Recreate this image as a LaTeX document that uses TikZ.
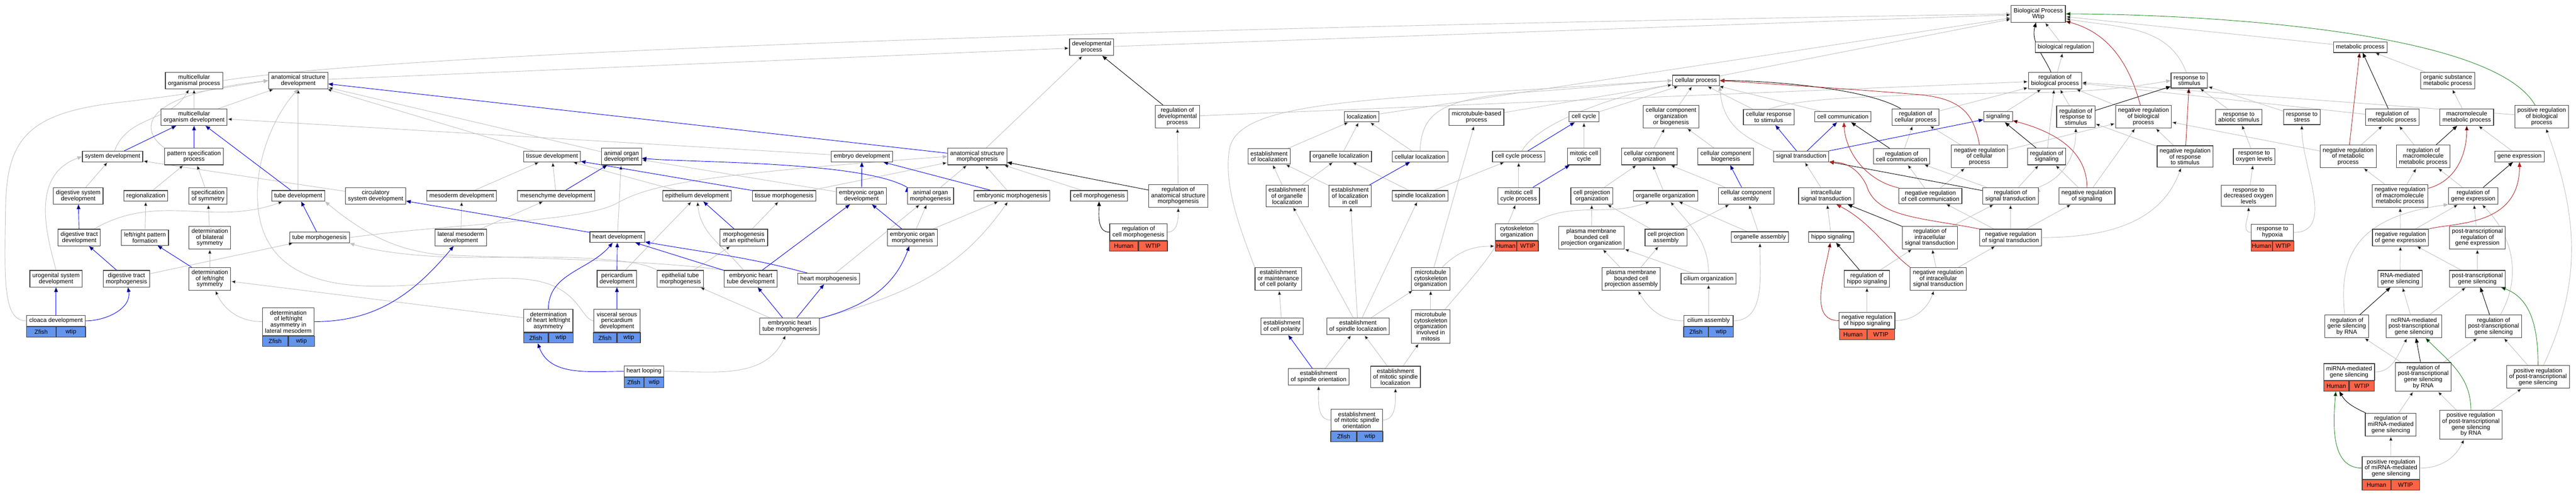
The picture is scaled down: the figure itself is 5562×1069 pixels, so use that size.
\documentclass[tikz,border=0pt]{standalone}
\usepackage{fontspec}
\setmainfont{Liberation Sans}
\usetikzlibrary{arrows.meta}
\pgfdeclarelayer{bg}
\pgfsetlayers{bg,main}
\definecolor{isagray}{RGB}{192,192,192}
\definecolor{negred}{RGB}{178,34,34}
\definecolor{posgreen}{RGB}{34,139,34}
\definecolor{zfish}{RGB}{100,149,237}
\definecolor{human}{RGB}{255,99,71}
\begin{document}
\begin{tikzpicture}[x=0.5pt, y=-0.5pt,
	term/.style={draw=black!75, line width=0.65pt, fill=white, align=center, inner xsep=2.75pt, inner ysep=2.7pt, minimum height=11.5pt, font=\fontsize{6.5}{6.5}\selectfont},
	zfcell/.style={term, fill=zfish, minimum height=11pt, inner sep=0pt},
	hscell/.style={term, fill=human, minimum height=11pt, inner sep=0pt},
	isa/.style={draw=isagray, line width=0.5pt, -{Triangle[length=5pt,width=4pt]}},
	partof/.style={isa, draw=blue},
	regl/.style={isa, draw=black},
	negreg/.style={isa, draw=negred},
	posreg/.style={isa, draw=posgreen}]
		\node[term] at (4401,30) (bp) {Biological Process\\Wtip};
		\node[term] at (2357,102) (dp) {developmental\\process};
		\node[term] at (4457,102) (bioreg) {biological regulation};
		\node[term] at (5096,102) (metab) {metabolic process};
		\node[term] at (419,174) (mop) {multicellular\\organismal process};
		\node[term] at (644,174) (asd) {anatomical structure\\development};
		\node[term] at (3662,174) (cp) {cellular process};
		\node[term] at (4437,174) (rbp) {regulation of\\biological process};
		\node[term] at (4727,174) (rts) {response to\\stimulus};
		\node[term] at (5285,174) (osmp) {organic substance\\metabolic process};
		\node[term] at (419,253) (mod) {multicellular\\organism development};
		\node[term] at (2542,252) (rdp) {regulation of\\developmental\\process};
		\node[term] at (2940,252) (loc) {localization};
		\node[term] at (3188,253) (mtbp) {microtubule-based\\process};
		\node[term] at (3420,252) (ccyc) {cell cycle};
		\node[term] at (3608,252) (ccob) {cellular component\\organization\\or biogenesis};
		\node[term] at (3819,253) (crs) {cellular response\\to stimulus};
		\node[term] at (3979,252) (ccom) {cell communication};
		\node[term] at (4136,253) (rcp) {regulation of\\cellular process};
		\node[term] at (4314,252) (sig) {signaling};
		\node[term] at (4482,252) (rrs) {regulation of\\response to\\stimulus};
		\node[term] at (4628,252) (nrbp) {negative regulation\\of biological\\process};
		\node[term] at (4834,253) (ras) {response to\\abiotic stimulus};
		\node[term] at (4970,253) (rstr) {response to\\stress};
		\node[term] at (5165,253) (rmp) {regulation of\\metabolic process};
		\node[term] at (5326,253) (mmp) {macromolecule\\metabolic process};
		\node[term] at (5488,252) (prbp) {positive regulation\\of biological\\process};
		\node[term] at (243,338) (sd) {system development};
		\node[term] at (419,338) (psp) {pattern specification\\process};
		\node[term] at (1192,338) (tisd) {tissue development};
		\node[term] at (1342,338) (aod) {animal organ\\development};
		\node[term] at (1861,338) (embd) {embryo development};
		\node[term] at (2110,338) (asm) {anatomical structure\\morphogenesis};
		\node[term] at (2740,338) (eol) {establishment\\of localization};
		\node[term] at (2895,338) (orgl) {organelle localization};
		\node[term] at (3066,338) (cloc) {cellular localization};
		\node[term] at (3279,338) (ccp) {cell cycle process};
		\node[term] at (3420,338) (mcc) {mitotic cell\\cycle};
		\node[term] at (3561,338) (cco) {cellular component\\organization};
		\node[term] at (3726,338) (ccb) {cellular component\\biogenesis};
		\node[term] at (3889,338) (st) {signal transduction};
		\node[term] at (4106,338) (rcc) {regulation of\\cell communication};
		\node[term] at (4274,338) (nrcp) {negative regulation\\of cellular\\process};
		\node[term] at (4419,338) (ros) {regulation of\\signaling};
		\node[term] at (4718,338) (nrrs) {negative regulation\\of response\\to stimulus};
		\node[term] at (4867,338) (rol) {response to\\oxygen levels};
		\node[term] at (5070,338) (nrmp) {negative regulation\\of metabolic\\process};
		\node[term] at (5232,338) (rmmp) {regulation of\\macromolecule\\metabolic process};
		\node[term] at (5440,338) (ge) {gene expression};
		\node[term] at (169,423) (dsd) {digestive system\\development};
		\node[term] at (315,423) (regio) {regionalization};
		\node[term] at (449,423) (sos) {specification\\of symmetry};
		\node[term] at (644,423) (td) {tube development};
		\node[term] at (811,423) (csd) {circulatory\\system development};
		\node[term] at (997,423) (mesd) {mesoderm development};
		\node[term] at (1201,423) (mchd) {mesenchyme development};
		\node[term] at (1505,423) (epd) {epithelium development};
		\node[term] at (1693,423) (tism) {tissue morphogenesis};
		\node[term] at (1860,423) (eod) {embryonic organ\\development};
		\node[term] at (2009,423) (aom) {animal organ\\morphogenesis};
		\node[term] at (2185,423) (emm) {embryonic morphogenesis};
		\node[term] at (2373,423) (cm) {cell morphogenesis};
		\node[term] at (2544,423) (rasm) {regulation of\\anatomical structure\\morphogenesis};
		\node[term] at (2779,423) (eool) {establishment\\of organelle\\localization};
		\node[term] at (2915,423) (eolc) {establishment\\of localization\\in cell};
		\node[term] at (3066,423) (spl) {spindle localization};
		\node[term] at (3279,423) (mccp) {mitotic cell\\cycle process};
		\node[term] at (3437,423) (cpo) {cell projection\\organization};
		\node[term] at (3596,423) (oo) {organelle organization};
		\node[term] at (3770,423) (cca) {cellular component\\assembly};
		\node[term] at (3943,423) (ist) {intracellular\\signal transduction};
		\node[term] at (4168,423) (nrcc) {negative regulation\\of cell communication};
		\node[term] at (4341,423) (rst) {regulation of\\signal transduction};
		\node[term] at (4506,423) (nrs) {negative regulation\\of signaling};
		\node[term] at (4855,423) (rdol) {response to\\decreased oxygen\\levels};
		\node[term] at (5182,423) (nrmmp) {negative regulation\\of macromolecule\\metabolic process};
		\node[term] at (5340,423) (rge) {regulation of\\gene expression};
		\node[term] at (171,513) (dtd) {digestive tract\\development};
		\node[term] at (313,513) (lrpf) {left/right pattern\\formation};
		\node[term] at (453,513) (dbs) {determination\\of bilateral\\symmetry};
		\node[term] at (690,513) (tm) {tube morphogenesis};
		\node[term] at (995,513) (lmd) {lateral mesoderm\\development};
		\node[term] at (1333,512) (hd) {heart development};
		\node[term] at (1606,513) (moe) {morphogenesis\\of an epithelium};
		\node[term] at (1970,513) (eom) {embryonic organ\\morphogenesis};
		\node[term] at (3436,513) (pmbcpo) {plasma membrane\\bounded cell\\projection organization};
		\node[term] at (3597,513) (cpa) {cell projection\\assembly};
		\node[term] at (3800,512) (oa) {organelle assembly};
		\node[term] at (3954,512) (hs) {hippo signaling};
		\node[term] at (4167,513) (rist) {regulation of\\intracellular\\signal transduction};
		\node[term] at (4341,513) (nrst) {negative regulation\\of signal transduction};
		\node[term] at (5183,513) (nrge) {negative regulation\\of gene expression};
		\node[term] at (5349,513) (ptrge) {post-transcriptional\\regulation of\\gene expression};
		\node[term] at (121,602) (usd) {urogenital system\\development};
		\node[term] at (273,602) (dtm) {digestive tract\\morphogenesis};
		\node[term] at (453,602) (dlrs) {determination\\of left/right\\symmetry};
		\node[term] at (1332,602) (pcd) {pericardium\\development};
		\node[term] at (1469,602) (etm) {epithelial tube\\morphogenesis};
		\node[term] at (1621,602) (ehtd) {embryonic heart\\tube development};
		\node[term] at (1789,602) (hm) {heart morphogenesis};
		\node[term] at (2760,602) (eomcp) {establishment\\or maintenance\\of cell polarity};
		\node[term] at (3089,602) (mtco) {microtubule\\cytoskeleton\\organization};
		\node[term] at (3522,602) (pmbcpa) {plasma membrane\\bounded cell\\projection assembly};
		\node[term] at (3689,602) (cio) {cilium organization};
		\node[term] at (4031,602) (rhs) {regulation of\\hippo signaling};
		\node[term] at (4185,602) (nrist) {negative regulation\\of intracellular\\signal transduction};
		\node[term] at (5182,602) (rgsm) {RNA-mediated\\gene silencing};
		\node[term] at (5349,602) (ptgs) {post-transcriptional\\gene silencing};
		\node[term] at (1705,705) (ehtm) {embryonic heart\\tube morphogenesis};
		\node[term] at (2768,705) (ecp) {establishment\\of cell polarity};
		\node[term] at (2932,705) (esl) {establishment\\of spindle localization};
		\node[term] at (3089,705) (mtcom) {microtubule\\cytoskeleton\\organization\\involved in\\mitosis};
		\node[term] at (5067,705) (rgsrna) {regulation of\\gene silencing\\by RNA};
		\node[term] at (5212,705) (ncptgs) {ncRNA-mediated\\post-transcriptional\\gene silencing};
		\node[term] at (5384,705) (rptgs) {regulation of\\post-transcriptional\\gene silencing};
		\node[term] at (2847,814) (eso) {establishment\\of spindle orientation};
		\node[term] at (3013,814) (emsl) {establishment\\of mitotic spindle\\localization};
		\node[term] at (5232,814) (rptgsr) {regulation of\\post-transcriptional\\gene silencing\\by RNA};
		\node[term] at (5480,814) (prptgs) {positive regulation\\of post-transcriptional\\gene silencing};
		\node[term] at (5162,917) (rmir) {regulation of\\miRNA-mediated\\gene silencing};
		\node[term] at (5335,917) (prptgsr) {positive regulation\\of post-transcriptional\\gene silencing\\by RNA};
		\node[term, anchor=south, minimum width=63pt] at (121,705) (clo) {cloaca development};
		\node[zfcell, anchor=north east, minimum width=31.5pt] at (121,705) (clo-s) {Zfish};
		\node[zfcell, anchor=north west, minimum width=31.5pt] at (121,705) (clo-g) {wtip};
		\node[term, anchor=south, minimum width=55.5pt] at (622.5,725) (dlralm) {determination\\of left/right\\asymmetry in\\lateral mesoderm};
		\node[zfcell, anchor=north east, minimum width=27.75pt] at (622.5,725) (dlralm-s) {Zfish};
		\node[zfcell, anchor=north west, minimum width=27.75pt] at (622.5,725) (dlralm-g) {wtip};
		\node[term, anchor=south, minimum width=53pt] at (1184,718) (dhlra) {determination\\of heart left/right\\asymmetry};
		\node[zfcell, anchor=north east, minimum width=26.5pt] at (1184,718) (dhlra-s) {Zfish};
		\node[zfcell, anchor=north west, minimum width=26.5pt] at (1184,718) (dhlra-g) {wtip};
		\node[term, anchor=south, minimum width=50pt] at (1332,718) (vspd) {visceral serous\\pericardium\\development};
		\node[zfcell, anchor=north east, minimum width=25pt] at (1332,718) (vspd-s) {Zfish};
		\node[zfcell, anchor=north west, minimum width=25pt] at (1332,718) (vspd-g) {wtip};
		\node[term, anchor=south, minimum width=42.5pt] at (1390.5,814) (hl) {heart looping};
		\node[zfcell, anchor=north east, minimum width=21.25pt] at (1390.5,814) (hl-s) {Zfish};
		\node[zfcell, anchor=north west, minimum width=21.25pt] at (1390.5,814) (hl-g) {wtip};
		\node[term, anchor=south, minimum width=62pt] at (2458,520) (rcm) {regulation of\\cell morphogenesis};
		\node[hscell, anchor=north east, minimum width=31pt] at (2458,520) (rcm-s) {Human};
		\node[hscell, anchor=north west, minimum width=31pt] at (2458,520) (rcm-g) {WTIP};
		\node[term, anchor=south, minimum width=55.5pt] at (2929.5,931) (emso) {establishment\\of mitotic spindle\\orientation};
		\node[zfcell, anchor=north east, minimum width=27.75pt] at (2929.5,931) (emso-s) {Zfish};
		\node[zfcell, anchor=north west, minimum width=27.75pt] at (2929.5,931) (emso-g) {wtip};
		\node[term, anchor=south, minimum width=46pt] at (3275,520) (cyto) {cytoskeleton\\organization};
		\node[hscell, anchor=north east, minimum width=23pt] at (3275,520) (cyto-s) {Human};
		\node[hscell, anchor=north west, minimum width=23pt] at (3275,520) (cyto-g) {WTIP};
		\node[term, anchor=south, minimum width=53pt] at (3689,705) (cia) {cilium assembly};
		\node[zfcell, anchor=north east, minimum width=26.5pt] at (3689,705) (cia-s) {Zfish};
		\node[zfcell, anchor=north west, minimum width=26.5pt] at (3689,705) (cia-g) {wtip};
		\node[term, anchor=south, minimum width=59pt] at (4031,711) (nrhs) {negative regulation\\of hippo signaling};
		\node[hscell, anchor=north east, minimum width=29.5pt] at (4031,711) (nrhs-s) {Human};
		\node[hscell, anchor=north west, minimum width=29.5pt] at (4031,711) (nrhs-g) {WTIP};
		\node[term, anchor=south, minimum width=45.5pt] at (4906.5,520) (rhyp) {response to\\hypoxia};
		\node[hscell, anchor=north east, minimum width=22.75pt] at (4906.5,520) (rhyp-s) {Human};
		\node[hscell, anchor=north west, minimum width=22.75pt] at (4906.5,520) (rhyp-g) {WTIP};
		\node[term, anchor=south, minimum width=54pt] at (5072,822) (mirna) {miRNA-mediated\\gene silencing};
		\node[hscell, anchor=north east, minimum width=27pt] at (5072,822) (mirna-s) {Human};
		\node[hscell, anchor=north west, minimum width=27pt] at (5072,822) (mirna-g) {WTIP};
		\node[term, anchor=south, minimum width=61.5pt] at (5162.5,1036) (prmir) {positive regulation\\of miRNA-mediated\\gene silencing};
		\node[hscell, anchor=north east, minimum width=30.75pt] at (5162.5,1036) (prmir-s) {Human};
		\node[hscell, anchor=north west, minimum width=30.75pt] at (5162.5,1036) (prmir-g) {WTIP};
		\begin{pgfonlayer}{bg}
		\path[fill=white, use as bounding box] (0,0) rectangle (5562,1069);
		\draw[isa] (mop.east) .. controls (900,110) and (2500,60) .. (bp.west);
		\draw[isa] (psp.north west) .. controls (300,280) and (300,205) .. (asd.west);
		\draw[isa] (clo.west) .. controls (5,694) and (10,600) .. (12,450) .. controls (14,300) and (60,245) .. (250,222) .. controls (400,205) and (480,190) .. (asd.west);
		\draw[isa] (usd.north) .. controls (105,520) and (60,380) .. (sd.west);
		\draw[isa] (vspd.west) .. controls (1255,690) and (1250,620) .. (1150,605) .. controls (1050,590) and (950,620) .. (800,618) .. controls (650,615) and (560,560) .. (556,430) .. controls (553,330) and (600,240) .. (asd.south);
		\draw[isa] (ehtd.north west) .. controls (1400,560) and (1050,556) .. (950,550) .. controls (850,540) and (780,500) .. (td.south east);
		\draw[isa] (etm.north west) .. controls (1380,560) and (1250,552) .. (1050,556) .. controls (900,558) and (800,540) .. (tm.south east);
		\draw[isa] (tm.east) .. controls (1000,480) and (1250,480) .. (1330,440) .. controls (1400,400) and (1500,378) .. (asm.west);
		\draw[isa] (eomcp.north west) .. controls (2680,500) and (2640,400) .. (2655,320) .. controls (2670,250) and (2800,225) .. (3100,205) .. controls (3300,195) and (3500,180) .. (cp.west);
		\draw[isa] (cloc.north) .. controls (3070,250) and (3100,215) .. (3280,200) .. controls (3400,192) and (3500,182) .. (cp.west);
		\draw[isa] (st.north west) .. controls (3780,300) and (3720,280) .. (cp.south east);
		\draw[isa] (crs.north) .. controls (3880,215) and (4000,205) .. (4400,200) .. controls (4550,197) and (4620,185) .. (rts.west);
		\draw[isa] (rgsrna.100) .. controls (5050,560) and (5080,470) .. (rge.south west);
		\draw[isa] (asd) edge (dp) (dp) edge (bp) (asm) edge (dp) (embd) edge (mod) (mod) edge (mop) (mod) edge (asd)
			(sd) edge[out=70,in=240] (mop) (dsd) edge (sd) (csd) edge (sd) (regio) edge (psp) (sos) edge (psp)
			(td) edge (asd) (dtd) edge[out=30,in=-160] (td) (lrpf) edge (regio) (dbs) edge (sos) (dtm) edge (tm)
			(dlrs) edge (dbs) (dlralm) edge[out=180,in=-65] (dlrs) (dhlra) edge (dlrs)
			(tisd) edge (asd) (aod) edge (asd) (mesd) edge (tisd) (mchd) edge (tisd) (lmd) edge (mesd) (lmd) edge (mchd)
			(epd) edge (tisd) (hd) edge (aod) (pcd) edge (epd) (ehtd) edge[out=130,in=-85] (epd) (etm) edge (moe)
			(moe) edge (tism) (tism) edge (asm) (eod) edge (aod) (aom) edge (asm) (emm) edge (asm) (eom) edge (aom)
			(eom) edge (emm) (hm) edge (aom) (ehtm) edge[out=15,in=-125] (emm) (ehtm) edge (etm)
			(hl) edge[out=0,in=-115] (ehtm) (cm) edge (asm) (rdp) edge (rbp) (rasm) edge (rdp) (rcm) edge[out=0,in=-90] (rasm);
		\draw[isa] (loc) edge (bp) (eol) edge (loc) (orgl) edge (loc) (cloc) edge (loc) (eool) edge (eol) (eool) edge (orgl)
			(eolc) edge (eol) (spl) edge (orgl) (spl) edge (ccp) (mtco) edge (mtbp) (mtco) edge[out=45,in=180] (cyto-s)
			(ecp) edge (eomcp) (esl) edge (eool) (esl) edge (eolc) (esl) edge (spl) (esl) edge (mtco) (mtcom) edge (mtco)
			(mtcom) edge[out=50,in=-110] (mccp) (eso) edge (esl) (emsl) edge (esl) (emsl) edge (mtcom)
			(emso) edge[out=180,in=-90] (eso) (emso) edge[out=0,in=-90] (emsl);
		\draw[isa] (cp) edge (bp) (mtbp) edge (cp) (ccyc) edge (cp) (ccob) edge (cp) (crs) edge (cp)
			(ccp) edge[out=60,in=190,looseness=0.6] (cp) (mcc) edge (ccyc) (cco) edge (ccob) (ccb) edge (ccob)
			(mccp) edge (ccp) (cpo) edge (cco) (oo) edge (cco) (cca) edge (cco) (cyto) edge[out=30,in=-160] (oo)
			(pmbcpo) edge (cpo) (cpa) edge (cpo) (cpa) edge (cca) (oa) edge (oo) (oa) edge (cca)
			(pmbcpa) edge (pmbcpo) (pmbcpa) edge (cpa) (cio) edge (pmbcpo) (cio) edge[out=90,in=-50] (oo)
			(cia) edge (cio) (cia) edge[out=180,in=-60] (pmbcpa) (cia) edge[out=0,in=-90] (oa);
		\draw[isa] (bioreg) edge (bp) (rbp) edge (bioreg) (ccom) edge (cp) (rcp) edge (rbp) (sig) edge (rbp)
			(rrs) edge (rbp) (nrbp) edge (rbp) (rts) edge[out=110,in=-10] (bp) (rcc) edge (rcp) (nrcp) edge (rcp)
			(nrcp) edge (nrbp) (ros) edge (rbp) (nrrs) edge (rrs) (nrrs) edge (nrbp) (ist) edge (st)
			(nrcc) edge (rcc) (nrcc) edge (nrcp) (rst) edge (ros) (rst) edge (rcc) (rst.north east) edge[out=20,in=-90] (rrs)
			(nrs) edge (ros) (nrs) edge (nrbp) (hs) edge (ist) (rist) edge (rst) (nrst) edge (rst) (nrst) edge (nrcc)
			(nrst) edge (nrs) (nrst) edge[out=0,in=-110] (nrrs) (rhs) edge (rist) (nrist) edge (rist)
			(nrist) edge (nrst) (nrhs) edge (rhs) (nrhs) edge[out=0,in=-110] (nrist);
		\draw[isa] (metab) edge (bp) (osmp) edge (metab) (ras) edge (rts) (rstr) edge (rts) (rmp) edge (rbp)
			(mmp) edge (osmp) (prbp) edge (rbp) (rol) edge (ras) (nrmp) edge (rmp) (nrmp) edge (nrbp) (rmmp) edge (rmp)
			(ge) edge (mmp) (rdol) edge (rol) (nrmmp) edge (nrmp) (nrmmp) edge (rmmp) (rge) edge (rmmp)
			(rhyp) edge[out=180,in=-90] (rdol) (rhyp) edge[out=0,in=-90] (rstr) (nrge) edge (nrmmp) (nrge) edge (rge)
			(ptrge) edge (rge) (rgsm) edge (nrge) (ptgs) edge (nrge) (ptgs) edge (ptrge) (ncptgs) edge (rgsm)
			(ncptgs) edge (ptgs) (rptgs) edge[out=60,in=-45] (rge) (mirna) edge[out=0,in=-120] (ncptgs)
			(rptgsr) edge (rgsrna) (rptgsr) edge (rptgs) (prptgs) edge (rptgs) (prptgs) edge[out=65,in=-70] (prbp)
			(rmir) edge (rptgsr) (prptgsr) edge (rptgsr) (prptgsr) edge (prptgs) (prmir) edge (rmir)
			(prmir) edge[out=0,in=-115] (prptgsr);
		\draw[partof] (sd) edge (mod) (psp) edge (mod) (td) edge (mod) (dtd) edge (dsd) (tm) edge (td) (dtm) edge (dtd)
			(dlrs) edge (lrpf) (clo) edge (usd) (clo) edge[out=0,in=-80] (dtm) (dlralm) edge[out=0,in=-130] (lmd)
			(hd) edge (csd) (mchd) edge (aod) (asm) edge (asd) (tism) edge (tisd) (aom.north west) edge[out=150,in=-5,looseness=0.5] (aod)
			(eod) edge (embd) (emm) edge (embd) (moe) edge (epd) (pcd) edge (hd) (vspd) edge (pcd)
			(dhlra) edge[out=90,in=-130] (hd) (ehtd) edge (hd) (hm) edge[out=165,in=-10] (hd) (ehtd) edge (eod)
			(ehtm) edge (ehtd) (ehtm) edge (hm) (ehtm) edge[out=15,in=-110] (eom) (eom) edge (eod)
			(hl) edge[out=180,in=-70] (dhlra-s) (eolc) edge (cloc) (eso) edge (ecp) (ccp) edge (ccyc) (mccp) edge (mcc)
			(cca) edge (ccb) (st) edge (crs) (st) edge (ccom) (st) edge (sig);
		\draw[regl] (rdp) edge (dp) (rasm) edge (asm) (rcm) edge[out=180,in=-90] (cm) (rbp) edge[out=115,in=-105] (bp)
			(rcp) edge[out=150,in=0,looseness=0.6] (cp) (rcc) edge (ccom) (ros) edge (sig) (rrs) edge (rts) (rst) edge (st)
			(rist) edge (ist) (rhs) edge (hs) (rmp) edge (metab) (rmmp) edge (mmp) (rge) edge (ge) (rgsrna) edge (rgsm)
			(rptgs) edge (ptgs) (rptgsr) edge (ncptgs) (rmir) edge[out=155,in=-60] (mirna-s);
		\draw[negreg] (nrcp.north) .. controls (4262,250) and (4240,215) .. (4150,205) .. controls (4000,192) and (3800,180) .. (cp.east);
		\draw[negreg] (nrcc.north west) .. controls (4030,390) and (3985,330) .. (ccom.-80);
		\draw[negreg] (nrst.north west) .. controls (4150,470) and (4050,470) .. (4030,400) .. controls (4010,360) and (3980,350) .. (st.south east);
		\draw[negreg] (nrist.north west) .. controls (4080,545) and (4040,480) .. (ist.-40);
		\draw[negreg] (nrge.north east) .. controls (5300,480) and (5440,490) .. (ge.south);
		\draw[negreg] (nrbp) edge[out=105,in=-15] (bp) (nrrs) edge (rts) (nrs) edge[out=90,in=-15] (sig)
			(nrhs) edge[out=180,in=-100] (hs) (nrmp) edge (metab) (nrmmp) edge[out=15,in=-90] (mmp);
		\draw[posreg] (prbp) edge[out=120,in=0,looseness=0.5] (bp) (prptgs) edge[out=90,in=-20] (ptgs)
			(prptgsr) edge[out=90,in=-45] (ncptgs) (prmir) edge[out=180,in=-95] (mirna-s);
		\end{pgfonlayer}
	\end{tikzpicture}
\end{document}
